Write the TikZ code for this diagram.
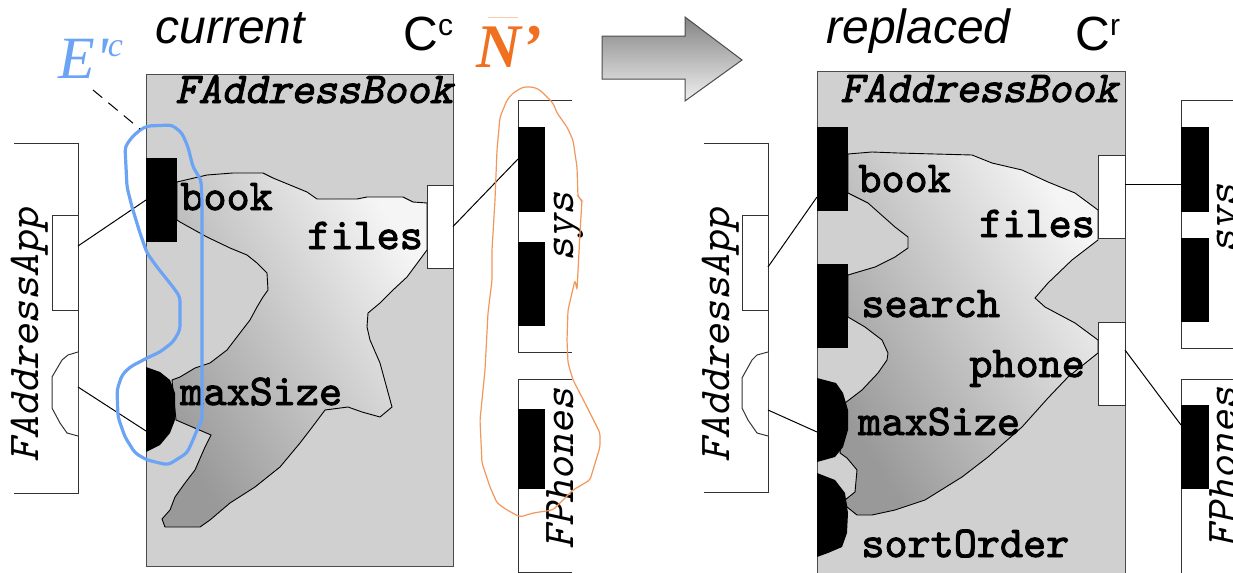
\documentclass[tikz,border=0pt]{standalone}
\usepackage{fontspec}
\newfontfamily\sansf{Liberation Sans}
\newfontfamily\seriff{Liberation Serif}
\newfontfamily\monob{lmmono10-regular.otf}[FakeBold=2.2]
\newfontfamily\monobi{lmmono10-regular.otf}[FakeBold=2.2, FakeSlant=0.22]
\newfontfamily\monoi{lmmono10-regular.otf}[FakeSlant=0.22]
\definecolor{compgray}{RGB}{208,208,208}
\definecolor{eblue}{RGB}{108,164,245}
\definecolor{norange}{RGB}{240,112,32}
\definecolor{nline}{RGB}{242,150,90}
\tikzset{
  comp/.style={fill=compgray, draw=black!70, line width=0.5pt},
  region/.style={draw=black, line width=0.45pt, top color=black!4, bottom color=black!40, shading angle=-58},
  bport/.style={fill=black, inner sep=0pt, outer sep=0pt, anchor=north west},
  wport/.style={fill=white, draw=black!80, line width=0.5pt, inner sep=0pt, outer sep=0pt, anchor=north west},
  hport/.style={fill=black},
  hwport/.style={fill=white, draw=black!80, line width=0.5pt},
  box/.style={draw=black!80, line width=0.5pt},
  conn/.style={draw=black, line width=0.5pt},
  lab/.style={font=\fontsize{22}{22}\selectfont\monob, anchor=base west, inner sep=0pt},
  clab/.style={font=\fontsize{22}{22}\selectfont\monobi, anchor=base west, inner sep=0pt},
  rlab/.style={font=\fontsize{22}{22}\selectfont\monoi, rotate=90, anchor=base west, inner sep=0pt},
  title/.style={font=\fontsize{24}{24}\selectfont\sansf, anchor=base west, inner sep=0pt},
}
\begin{document}
\begin{tikzpicture}[x=0.5pt,y=-0.5pt]
\useasboundingbox (0,0) rectangle (1233,573);
\clip (0,0) rectangle (1233,573);

% ---------------- titles ----------------
\node[title] (tcur) at (155,43) {\itshape current};
\node[title] (tCc) at (403,50) {C\raisebox{7.5pt}{\fontsize{15}{15}\selectfont c}};
\node[title] (trep) at (826,43) {\itshape replaced};
\node[title] (tCr) at (1075,50) {C\raisebox{7.5pt}{\fontsize{15}{15}\selectfont r}};
\node[anchor=base west, inner sep=0pt, text=eblue, font=\fontsize{30}{30}\selectfont\seriff\itshape] (Elab) at (58,78) {E'\raisebox{11pt}{\fontsize{17}{17}\selectfont c}};
\node[anchor=base west, inner sep=0pt, text=norange, font=\fontsize{31}{31}\selectfont\seriff\bfseries\itshape] (Nlab) at (476,68) {N’};
\coordinate (Nbar1) at (488,17);
\coordinate (Nbar2) at (518,17);
\draw[nline!50, line width=0.5pt] (Nbar1) -- (Nbar2);

% ---------------- big arrow ----------------
\shade[top color=black!48, bottom color=black!6, draw=black!70, line width=0.5pt]
  (602,36) -- (685,36) -- (685,17) -- (742,60) -- (685,101) -- (685,79) -- (602,79) -- cycle;

% ================= LEFT (current) =================
\path[comp] (146,74) rectangle (453,566);
\path[region] (177,182) -- (207,175) -- (233,173) -- (263,173) -- (273,178) -- (290,185) -- (307,192) -- (317,199) -- (357,199) -- (367,197) -- (403,197) -- (413,202) -- (427,203)
  -- (427,250) -- (407,277) -- (393,290) -- (380,303) -- (368,313) -- (367,327) -- (370,340) -- (380,363) -- (392,407) -- (380,417) -- (362,412) -- (348,407) -- (325,410) -- (310,430) -- (300,443) -- (280,467) -- (255,487) -- (230,503) -- (210,520) -- (200,527) -- (165,527) -- (162,519) -- (170,510) -- (175,497) -- (185,483) -- (195,470) -- (205,447) -- (211,435) -- (176,420)
  -- (172,380) -- (180,377) -- (195,368) -- (210,363) -- (227,350) -- (240,333) -- (250,320) -- (257,307) -- (263,297) -- (268,290) -- (267,273) -- (257,263) -- (247,255) -- (230,248) -- (207,237) -- (180,222) -- (177,220) -- cycle;

\node[bport, minimum width=15.5pt, minimum height=42pt] (Lbook) at (146,158) {};
\path[hport] (146,367) -- (160,372) -- (170,380) -- (175,393) -- (175,420) -- (170,433) -- (160,445) -- (146,452) -- cycle;
\coordinate (LmaxS) at (146,431);
\node[wport, minimum width=13pt, minimum height=41.5pt] (Lfiles) at (427,185) {};

\node[clab] (LcompName) at (175,103) {FAddressBook};
\node[lab] (LbookT) at (180,210) {book};
\node[lab] (LfilesT) at (307,249) {files};
\node[lab] (LmaxT) at (180,405) {maxSize};

% FAddressApp (left)
\draw[box] (14,143) -- (78,143) -- (78,493) -- (14,493);
\node[wport, minimum width=13pt, minimum height=47.5pt] (LappP) at (52,215) {};
\path[hwport] (78,352) -- (68,355) -- (62,360) -- (52,377) -- (52,408) -- (60,423) -- (67,433) -- (78,436);
\coordinate (LappH) at (78,387);
\node[rlab] (LappT) at (39,463) {FAddressApp};

% sys (left)
\draw[box] (572,100) -- (518,100) -- (518,352) -- (572,352);
\node[bport, minimum width=13.5pt, minimum height=42.5pt] (LsysP1) at (518,127) {};
\node[bport, minimum width=13.5pt, minimum height=42pt] (LsysP2) at (518,242) {};
\node[rlab] (LsysT) at (573,262) {sys};

% FPhones (left)
\draw[box] (572,379) -- (518,379) -- (518,572) -- (572,572);
\node[bport, minimum width=13.5pt, minimum height=40pt] (LphP) at (518,409) {};
\node[rlab] (LphT) at (573,550) {FPhones};

% connectors (left)
\draw[conn] ([yshift=8.25pt]LappP.east) -- (Lbook.west);
\draw[conn] (LappH) -- (LmaxS);
\draw[conn] (Lfiles.east) -- ([yshift=5.25pt]LsysP1.west);

% E'c outline
\draw[eblue, line width=1.6pt, rounded corners=2pt]
  (147,126) -- (172,125) -- (182,133) -- (188,147) -- (193,167) -- (201,180) -- (202,200) -- (202,420) -- (197,430) -- (193,440) -- (187,453) -- (168,465) -- (147,460) -- (135,453) -- (125,437) -- (118,417) -- (117,390) -- (122,375) -- (130,367) -- (147,358) -- (160,352) -- (173,342) -- (180,330) -- (180,297) -- (173,287) -- (157,267) -- (147,253) -- (140,233) -- (132,207) -- (127,187) -- (125,147) -- (132,137) -- (140,130) -- cycle;
\coordinate (Eend) at (93,90);
\coordinate (Eblob) at (140,129);
\draw[black, line width=0.5pt, dash pattern=on 6pt off 4pt] (Eend) -- (Eblob);

% N' outline
\draw[nline, line width=0.6pt, rounded corners=1.5pt]
  (523,87) -- (533,87) -- (540,90) -- (548,98) -- (553,103) -- (557,113) -- (567,127) -- (573,140) -- (577,167) -- (578,197) -- (582,200) -- (580,233) -- (577,290) -- (575,280) -- (568,310) -- (567,340) -- (568,363) -- (573,380) -- (587,407) -- (600,433) -- (600,447) -- (593,470) -- (590,480) -- (573,490) -- (563,500) -- (553,510) -- (533,513) -- (520,517) -- (507,510) -- (497,503) -- (490,487) -- (482,463) -- (480,420) -- (485,370) -- (488,313) -- (492,280) -- (492,250) -- (495,200) -- (497,150) -- (500,117) -- (507,100) -- (513,93) -- cycle;

% ================= RIGHT (replaced) =================
\path[comp] (817,71) rectangle (1125,590);
\path[region] (848,154) -- (872,152) -- (898,153) -- (972,155) -- (992,163) -- (1022,170) -- (1048,182) -- (1075,193) -- (1098,210)
  -- (1098,240) -- (1072,260) -- (1048,283) -- (1035,298) -- (1045,307) -- (1075,323) -- (1098,340)
  -- (1098,353) -- (1068,377) -- (1048,398) -- (1022,427) -- (988,457) -- (962,477) -- (925,500) -- (895,510) -- (872,515) -- (857,515) -- (847,507) -- (845,500) -- (855,492) -- (857,470) -- (847,458) -- (840,453)
  -- (845,403) -- (862,390) -- (878,373) -- (887,360) -- (888,353) -- (882,340) -- (865,327) -- (848,317)
  -- (848,275) -- (875,267) -- (895,257) -- (908,248) -- (908,237) -- (895,227) -- (868,203) -- (848,193) -- cycle;

\node[bport, minimum width=15.5pt, minimum height=42pt] (Rbook) at (817,127) {};
\node[bport, minimum width=15.5pt, minimum height=42pt] (Rsearch) at (817,264) {};
\path[hport] (817,378) -- (836,383) -- (843,393) -- (848,410) -- (848,430) -- (843,447) -- (835,457) -- (817,462) -- cycle;
\path[hport] (817,473) -- (835,480) -- (845,493) -- (848,513) -- (847,533) -- (842,547) -- (828,553) -- (817,557) -- cycle;
\coordinate (RmaxS) at (817,432);
\node[wport, minimum width=13.5pt, minimum height=41.5pt] (Rfiles) at (1098,155) {};
\node[wport, minimum width=13.5pt, minimum height=41.5pt] (Rphone) at (1098,322) {};

\node[clab] (RcompName) at (840,102) {FAddressBook};
\node[lab] (RbookT) at (858,192) {book};
\node[lab] (RfilesT) at (979,237) {files};
\node[lab] (RsearchT) at (861,317) {search};
\node[lab] (RphoneT) at (969,377) {phone};
\node[lab] (RmaxT) at (858,435) {maxSize};
\node[lab] (RsortT) at (861,557) {sortOrder};

% FAddressApp (right)
\draw[box] (704,143) -- (768,143) -- (768,492) -- (704,492);
\node[wport, minimum width=13pt, minimum height=47.5pt] (RappP) at (742,215) {};
\path[hwport] (768,352) -- (757,355) -- (752,360) -- (742,378) -- (742,408) -- (748,420) -- (757,433) -- (768,436);
\coordinate (RappH) at (768,410);
\node[rlab] (RappT) at (729,463) {FAddressApp};

% sys (right)
\draw[box] (1240,100) -- (1181,100) -- (1181,348) -- (1240,348);
\node[bport, minimum width=14pt, minimum height=42.5pt] (RsysP1) at (1181,127) {};
\node[bport, minimum width=14pt, minimum height=42pt] (RsysP2) at (1181,238) {};
\node[rlab] (RsysT) at (1236,254) {sys};

% FPhones (right)
\draw[box] (1240,379) -- (1181,379) -- (1181,590);
\node[bport, minimum width=14pt, minimum height=42pt] (RphP) at (1181,405) {};
\node[rlab] (RphT) at (1236,549) {FPhones};

% connectors (right)
\draw[conn] ([yshift=-2.25pt]RappP.east) -- ([yshift=-14pt]Rbook.west);
\draw[conn] (RappH) -- (RmaxS);
\coordinate (Rf) at ([yshift=6.25pt]Rfiles.east);
\draw[conn] (Rf) -- (Rf -| RsysP1.west);
\draw[conn] ([yshift=6.75pt]Rphone.east) -- ([yshift=11pt]RphP.west);
\end{tikzpicture}
\end{document}
